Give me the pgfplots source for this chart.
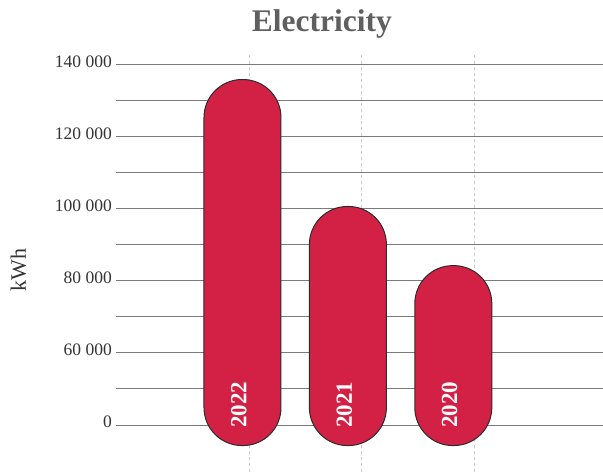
\documentclass[border=0pt]{standalone}
\usepackage{pgfplots}
\pgfplotsset{compat=1.18}
\usepackage{fontspec}
\setmainfont{Liberation Serif}
\definecolor{barred}{HTML}{D22145}
\definecolor{barline}{HTML}{2B2B2B}
\definecolor{gridgray}{HTML}{7A7A7A}
\definecolor{dashgray}{HTML}{C8C8C8}
\definecolor{titlegray}{HTML}{5F5F5F}
\definecolor{labgray}{HTML}{333333}
\begin{document}
\begin{tikzpicture}
\begin{axis}[
  scale only axis, width=487pt, height=417pt,
  xmin=-1.2, xmax=3.42,
  y coord trafo/.code={\pgfmathparse{#1-34.3}},
  y coord inv trafo/.code={\pgfmathparse{#1+34.3}},
  ymin=26.97, ymax=142.6,
  scaled y ticks=false,
  ytick={40,60,80,100,120,140},
  yticklabels={0,60 000,80 000,100 000,120 000,140 000},
  minor ytick={50,70,90,110,130},
  xtick={0.0645,1.131,2.199}, xticklabels={,,},
  xmajorgrids, ymajorgrids, yminorgrids,
  major grid style={}, minor grid style={},
  x grid style={dashgray, line width=0.8pt, dash pattern=on 3pt off 3pt},
  y grid style={gridgray, line width=0.9pt, solid},
  axis line style={draw=none},
  major tick length=0pt, minor tick length=0pt,
  yticklabel style={inner sep=0pt, xshift=-4pt, yshift=3pt, text=labgray, font=\fontsize{17.5}{17.5}\selectfont},
  ylabel={kWh},
  ylabel style={at={(axis description cs:-0.2002,0.4844)}, anchor=center, text=labgray, font=\fontsize{22}{22}\selectfont},
  title={Electricity},
  title style={at={(axis description cs:0.4225,1.0408)}, anchor=base, text=titlegray, font=\bfseries\fontsize{31.5}{31.5}\selectfont},
]
% values in thousands of kWh
\addplot[ybar, bar width=77pt, fill=barred, draw=barline, line width=1pt, rounded corners=38pt]
  coordinates {(0,135.8) (1,100.6) (2,84.2)};
\addplot[draw=none, mark=none, nodes near coords, point meta=explicit symbolic,
  nodes near coords style={anchor=west, rotate=90, inner sep=0pt, text=white, font=\bfseries\fontsize{23}{23}\selectfont}]
  coordinates {(-0.035,39.2)[2022] (0.965,39.2)[2021] (1.965,39.2)[2020]};
\coordinate (bbl) at (rel axis cs:-0.2382,0);
\coordinate (btr) at (rel axis cs:1,1.1319);
\end{axis}
\pgfresetboundingbox
\path[use as bounding box] (bbl) rectangle (btr);
\end{tikzpicture}
\end{document}
